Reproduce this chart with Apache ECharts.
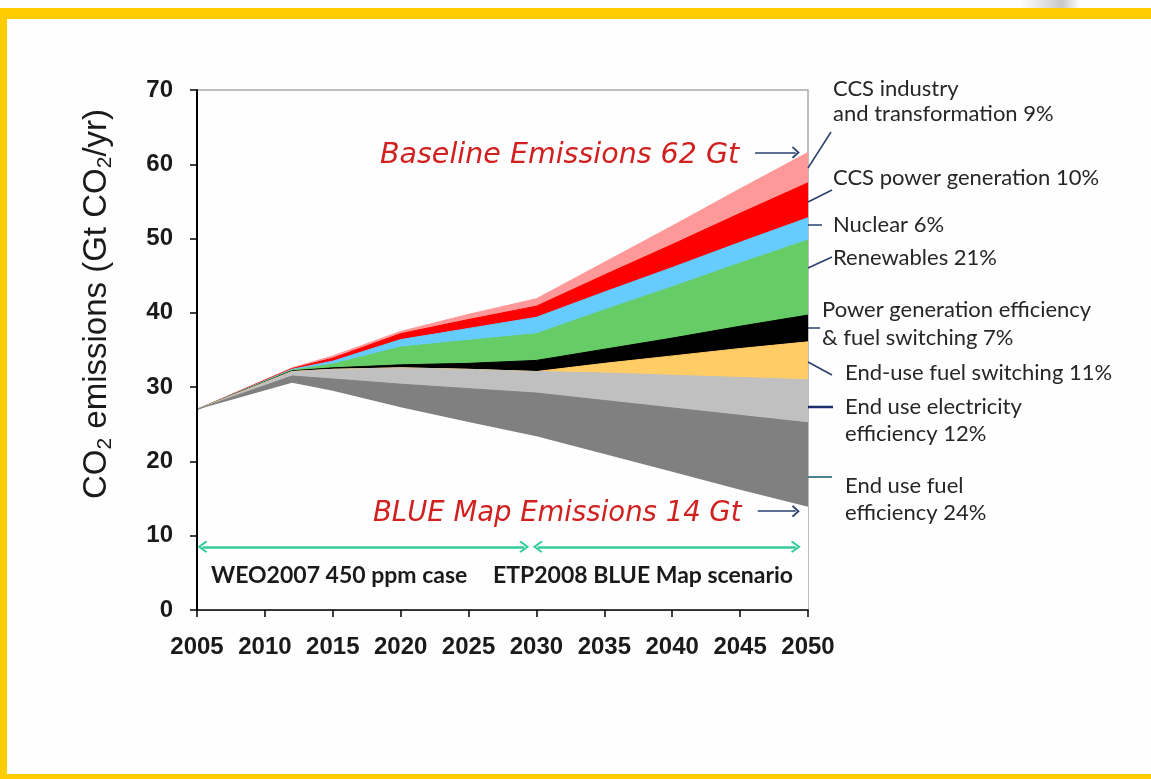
<!DOCTYPE html>
<html>
<head>
<meta charset="utf-8">
<script src="https://cdn.jsdelivr.net/npm/echarts@6/dist/echarts.min.js"></script>
<style>
html,body{margin:0;padding:0;background:#fefefe;}
#c{width:1151px;height:779px;}
</style>
</head>
<body>
<div id="c"></div>
<script>
// ---------- data (Gt CO2 / yr) ----------
const years = [2005, 2012, 2015, 2020, 2025, 2030, 2035, 2040, 2045, 2050];
// BLUE Map emissions (bottom of the wedges)
const blueMapEmissions = [27.0, 30.6, 29.5, 27.3, 25.3, 23.4, 21.0, 18.6, 16.2, 13.9];
// wedge thicknesses, stacked upward from BLUE Map line
const endUseFuelEff     = [0, 0.9, 1.6, 3.1, 4.5, 5.8, 7.2, 8.6, 10.0, 11.3];
const endUseElecEff     = [0, 0.6, 1.3, 2.2, 2.6, 2.9, 3.7, 4.4, 5.1, 5.8];
const endUseFuelSwitch  = [0, 0, 0, 0, 0, 0, 1.3, 2.6, 3.9, 5.1];
const powerGenEff       = [0, 0.1, 0.2, 0.4, 0.8, 1.5, 1.9, 2.4, 3.0, 3.6];
const renewables        = [0, 0.1, 0.5, 2.4, 3.1, 3.6, 5.3, 6.9, 8.5, 10.1];
const nuclear           = [0, 0.1, 0.4, 1.0, 1.6, 2.2, 2.4, 2.6, 2.8, 3.0];
const ccsPower          = [0, 0.1, 0.4, 0.8, 1.2, 1.5, 2.3, 3.1, 3.9, 4.7];
const ccsIndustry       = [0, 0.1, 0.3, 0.3, 0.7, 1.0, 1.7, 2.5, 3.3, 4.1];

const bandNames = ['End use fuel efficiency', 'End use electricity efficiency', 'End-use fuel switching',
  'Power generation efficiency & fuel switching', 'Renewables', 'Nuclear', 'CCS power generation',
  'CCS industry and transformation'];
const bandColors = ['#808080', '#c0c0c0', '#ffcc66', '#000000', '#66cc66', '#66ccff', '#ff0000', '#ff9999'];
const bands = [endUseFuelEff, endUseElecEff, endUseFuelSwitch, powerGenEff, renewables, nuclear, ccsPower, ccsIndustry];

// axis ticks
const xMin = 2005, xMax = 2050, xStep = 5;
const yMin = 0, yMax = 70, yStep = 10;

// annotation texts
const rightLabels = [
  ['CCS industry', 833, 89], ['and transformation 9%', 833, 114],
  ['CCS power generation 10%', 833, 178], ['Nuclear 6%', 833, 225], ['Renewables 21%', 833, 258],
  ['Power generation efficiency', 822, 310], ['& fuel switching 7%', 822, 338],
  ['End-use fuel switching 11%', 845, 373], ['End use electricity', 845, 407], ['efficiency 12%', 845, 434],
  ['End use fuel', 845, 486], ['efficiency 24%', 845, 513]
];

// ---------- build cumulative boundaries ----------
const tops = [];
let run = blueMapEmissions.slice();
bands.forEach(b => { run = run.map((v, i) => +(v + b[i]).toFixed(2)); tops.push(run); });

const BG = '#fefefe';
const chevron = 'path://M0,0L10,10L8,12L0,4L-8,12L-10,10Z';

const series = [];
for (let k = bands.length - 1; k >= 0; k--) {
  series.push({
    type: 'line', name: bandNames[k],
    data: years.map((y, i) => [y, tops[k][i]]),
    symbol: 'none', silent: true,
    lineStyle: { color: bandColors[k], width: 1 },
    areaStyle: { color: bandColors[k], opacity: 1, origin: 'start' }
  });
}
// mask below BLUE Map line
series.push({
  type: 'line', name: 'BLUE Map emissions',
  data: years.map((y, i) => [y, blueMapEmissions[i]]),
  symbol: 'none', silent: true,
  lineStyle: { width: 0, opacity: 0 },
  areaStyle: { color: BG, opacity: 1, origin: 'start' },
  markLine: {
    silent: true, animation: false, symbol: [chevron, chevron], symbolSize: [12, 10],
    label: { show: false },
    lineStyle: { color: '#33cc99', width: 2.5, type: 'solid' },
    data: [
      [{ coord: [2005.4, 8.5] }, { coord: [2029.1, 8.5] }],
      [{ coord: [2030.1, 8.5] }, { coord: [2049.1, 8.5] }]
    ]
  }
});
// arrows pointing at 62 Gt and 14 Gt
series.push({
  type: 'line', data: [], silent: true,
  markLine: {
    silent: true, animation: false, symbol: ['none', chevron], symbolSize: [12, 8],
    label: { show: false },
    lineStyle: { color: '#2a3f6e', width: 1.5, type: 'solid' },
    data: [
      [{ coord: [2046.1, 61.6] }, { coord: [2049.1, 61.6] }],
      [{ coord: [2046.3, 13.3] }, { coord: [2049.1, 13.3] }]
    ]
  }
});

function txt(text, x, y, opt) {
  return Object.assign({
    type: 'text', x: x, y: y, z: 50, silent: true,
    style: Object.assign({
      text: text, fill: '#262626', fontFamily: 'Lato', fontSize: 22,
      align: 'left', verticalAlign: 'middle', textAlign: 'left', textVerticalAlign: 'middle'
    }, opt || {})
  });
}
function seg(x1, y1, x2, y2, color, w) {
  return { type: 'line', z: 50, silent: true, shape: { x1, y1, x2, y2 }, style: { stroke: color, lineWidth: w || 1.5 } };
}

const graphics = [
  // frame
  { type: 'rect', z: 60, silent: true, shape: { x: 0, y: 8, width: 1151, height: 11 }, style: { fill: '#ffcc00' } },
  { type: 'rect', z: 60, silent: true, shape: { x: 0, y: 8, width: 7, height: 771 }, style: { fill: '#ffcc00' } },
  { type: 'rect', z: 60, silent: true, shape: { x: 0, y: 774, width: 1151, height: 5 }, style: { fill: '#ffcc00' } },
  { type: 'rect', z: 60, silent: true, shape: { x: 1020, y: 0, width: 60, height: 8 },
    style: { fill: { type: 'linear', x: 0, y: 0, x2: 1, y2: 0, colorStops: [{ offset: 0, color: '#ffffff' }, { offset: 0.7, color: '#c8c8c8' }, { offset: 1, color: '#ffffff' }] } } },
  // y axis title
  { type: 'text', x: 97, y: 304, rotation: Math.PI / 2, z: 50, silent: true,
    style: {
      text: '{a|CO}{s|2}{a| emissions (Gt CO}{s|2}{a|/yr)}',
      align: 'center', verticalAlign: 'middle', textAlign: 'center', textVerticalAlign: 'middle',
      rich: {
        a: { fontSize: 33, fontFamily: 'Liberation Sans', fill: '#1a1a1a', color: '#1a1a1a', lineHeight: 38 },
        s: { fontSize: 21, fontFamily: 'Liberation Sans', fill: '#1a1a1a', color: '#1a1a1a', lineHeight: 18, verticalAlign: 'bottom' }
      }
    } },
  // red annotations
  txt('Baseline Emissions 62 Gt', 380, 156, { fill: '#d0201f', fontFamily: 'DejaVu Sans', fontStyle: 'italic', fontSize: 28.5 }),
  txt('BLUE Map Emissions 14 Gt', 373, 514, { fill: '#d0201f', fontFamily: 'DejaVu Sans', fontStyle: 'italic', fontSize: 27.5 }),
  // scenario labels
  txt('WEO2007 450 ppm case', 211, 576, { fontWeight: 'bold', fontSize: 23, fill: '#1a1a1a' }),
  txt('ETP2008 BLUE Map scenario', 493, 576, { fontWeight: 'bold', fontSize: 23, fill: '#1a1a1a' }),
  // leader lines
  seg(808, 168, 831, 132, '#2a3f6e'),
  seg(808, 202, 832, 190, '#2a3f6e'),
  seg(808, 225, 822, 225, '#2a3f6e'),
  seg(808, 268, 832, 257, '#2a3f6e'),
  seg(808, 328, 820, 328, '#2a3f6e'),
  seg(808, 362, 832, 375, '#2a3f6e'),
  seg(808, 407, 833, 407, '#1a2f6a', 2.5),
  seg(808, 477, 832, 477, '#4f8090', 2)
];
rightLabels.forEach(l => graphics.push(txt(l[0], l[1], l[2])));

const chart = echarts.init(document.getElementById('c'));
chart.setOption({
  animation: false,
  backgroundColor: BG,
  grid: { left: 197, right: 343, top: 90, bottom: 169, show: true, borderColor: '#a8a8a8', borderWidth: 1.5, backgroundColor: 'transparent' },
  xAxis: {
    type: 'value', min: xMin, max: xMax, interval: xStep, z: 10,
    axisLine: { show: true, onZero: false, lineStyle: { color: '#000', width: 1.5 } },
    axisTick: { show: true, length: 7, lineStyle: { color: '#000', width: 1.5 } },
    axisLabel: { fontFamily: 'Liberation Sans', fontWeight: 'bold', fontSize: 24, color: '#1a1a1a', margin: 25, formatter: v => String(v) },
    splitLine: { show: false }
  },
  yAxis: {
    type: 'value', min: yMin, max: yMax, interval: yStep, z: 10,
    axisLine: { show: true, lineStyle: { color: '#000', width: 2 } },
    axisTick: { show: true, length: 7, lineStyle: { color: '#000', width: 1.5 } },
    axisLabel: { fontFamily: 'Liberation Sans', fontWeight: 'bold', fontSize: 24, color: '#1a1a1a', margin: 24 },
    splitLine: { show: false }
  },
  series: series,
  graphic: graphics
});
</script>
</body>
</html>
